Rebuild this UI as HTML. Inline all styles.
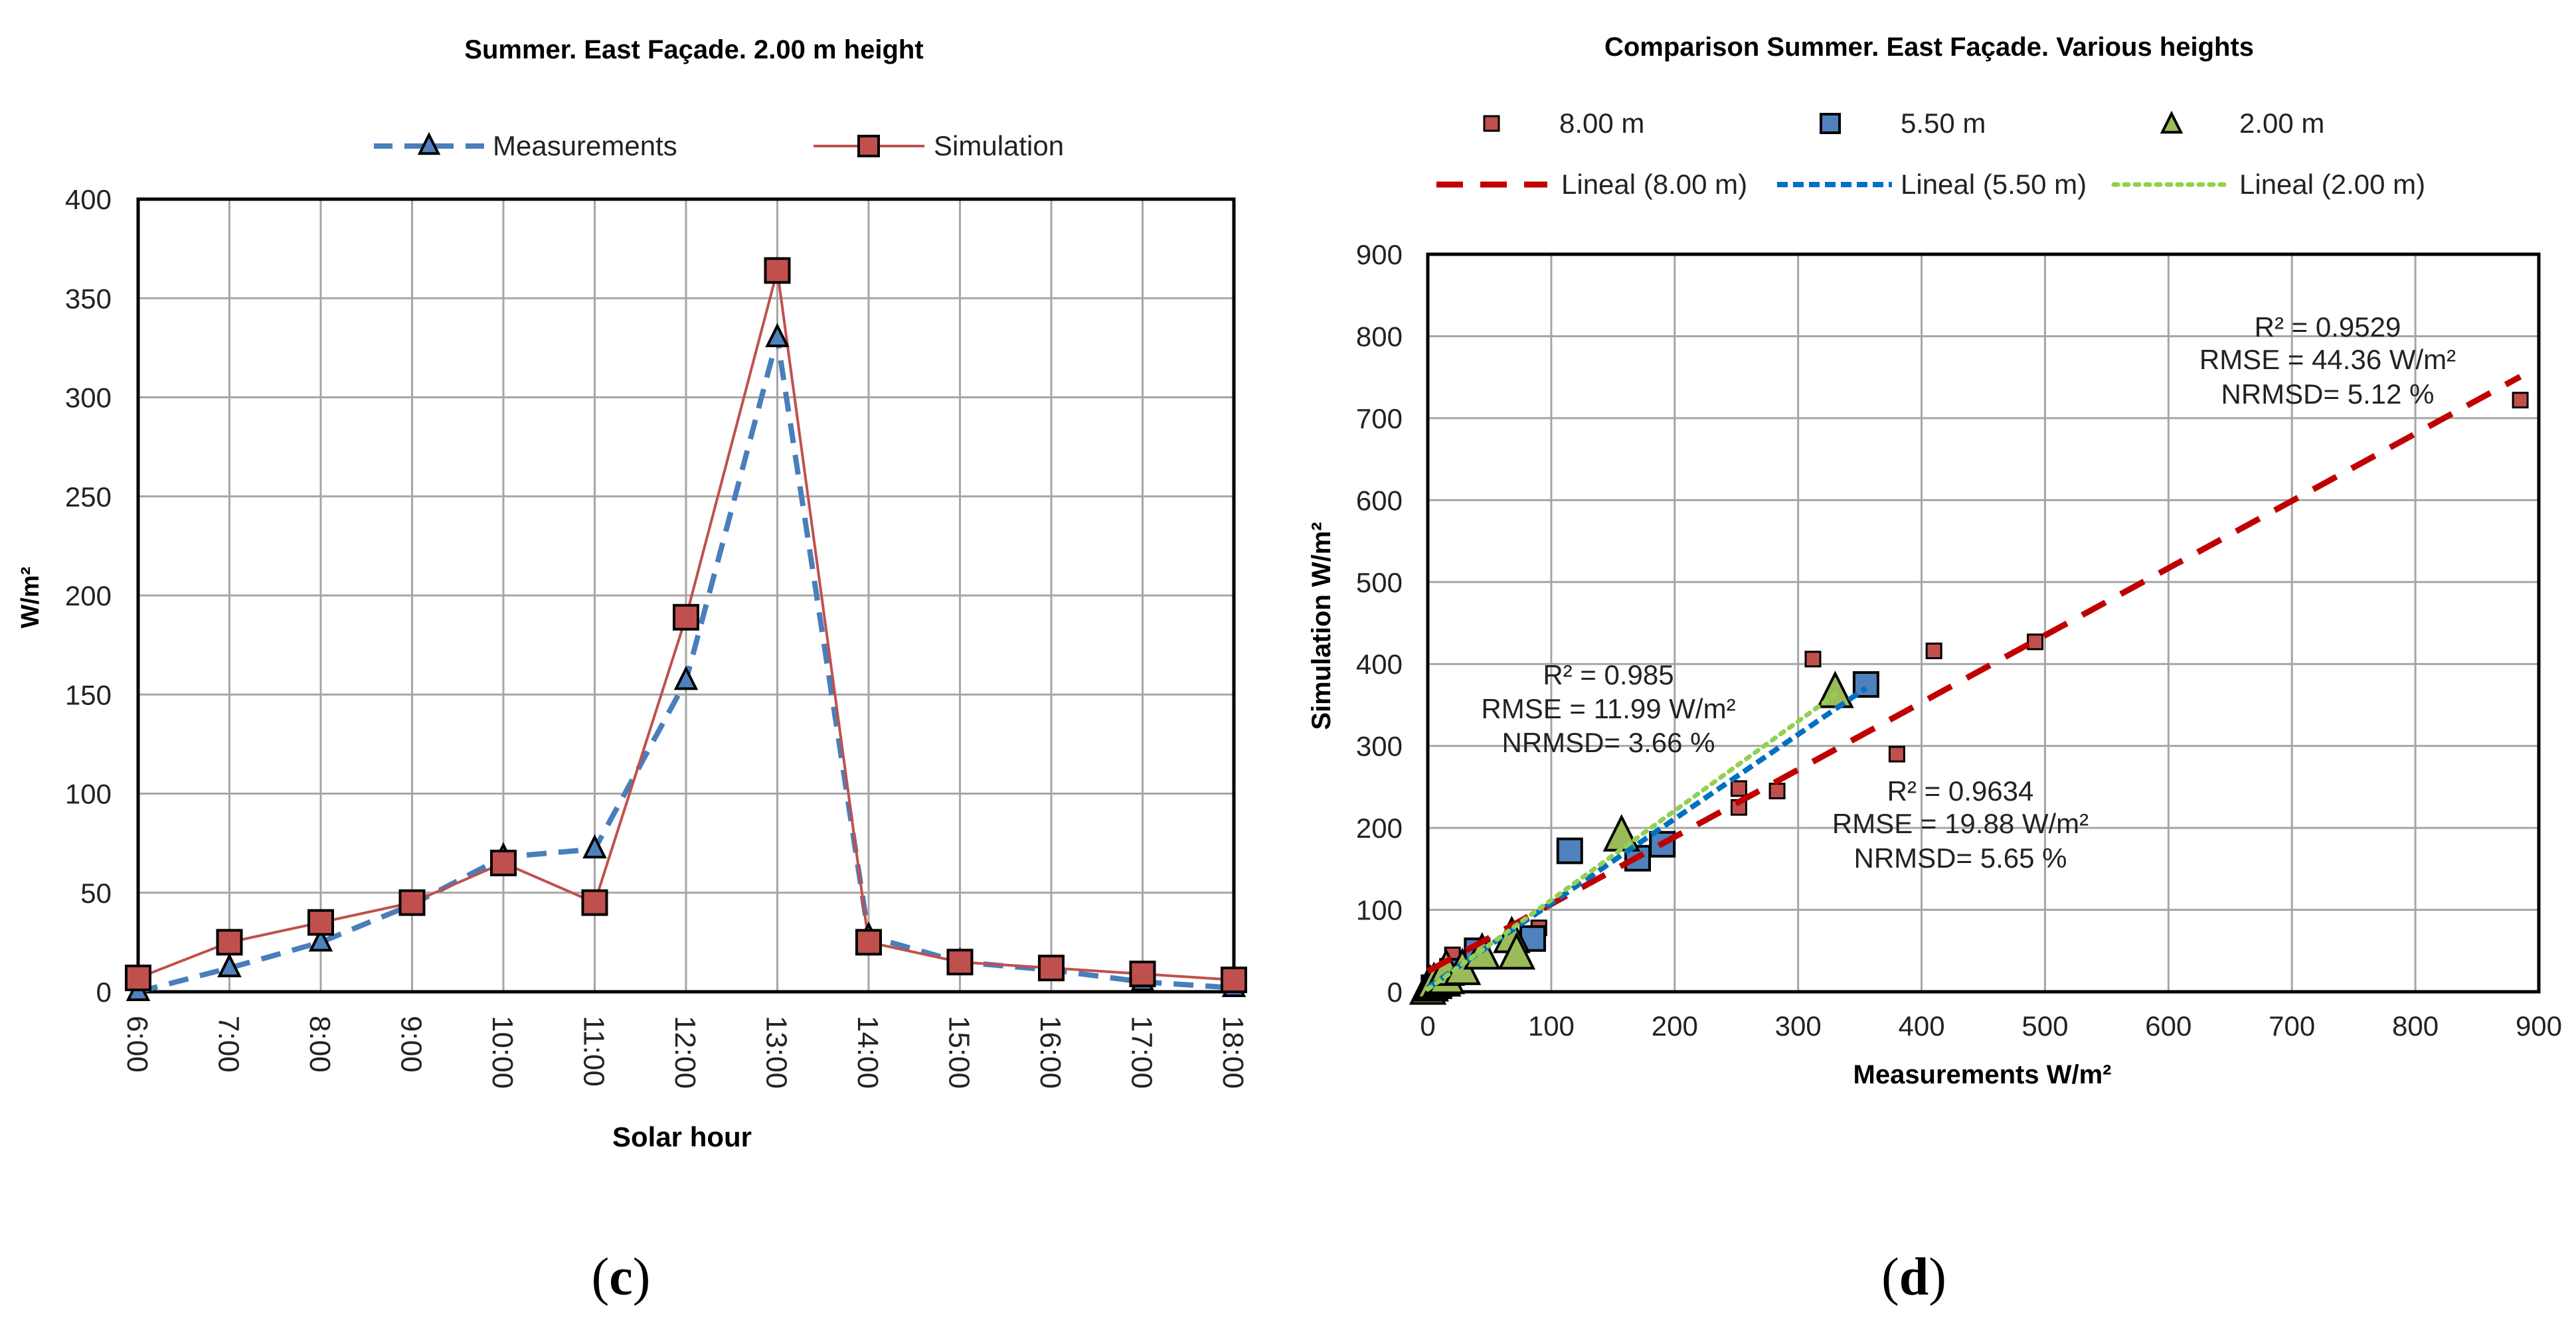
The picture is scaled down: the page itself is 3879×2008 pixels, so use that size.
<!DOCTYPE html>
<html><head><meta charset="utf-8"><style>
html,body{margin:0;padding:0;background:#fff;}
svg{display:block;font-family:"Liberation Sans",Arial,sans-serif;}
</style></head><body>
<svg id="fig" width="3879" height="2008" viewBox="0 0 3879 2008">
<g id="left"></g>
<g id="right"></g>
<text x="935" y="1950" font-family="Liberation Serif,serif" font-size="80" text-anchor="middle">(<tspan font-weight="bold">c</tspan>)</text>
<text x="2882" y="1950" font-family="Liberation Serif,serif" font-size="80" text-anchor="middle">(<tspan font-weight="bold">d</tspan>)</text>
</svg>
<script>
const hours = ["6:00","7:00","8:00","9:00","10:00","11:00","12:00","13:00","14:00","15:00","16:00","17:00","18:00"];
const measurements = [0,12,25,44,68,72,157,330,28,15,11,5,2];
const simulation = [7,25,35,45,65,45,189,364,25,15,12,9,6];
const leftTicks = [0,50,100,150,200,250,300,350,400];

const s8x = [5,10,15,20,90,252,252,283,312,380,410,492,885];
const s8y = [5,10,20,45,78,248,225,245,406,290,416,427,722];
const s55x = [5,10,20,40,85,115,170,190,355];
const s55y = [5,10,25,50,65,172,163,180,375];
const s2x = [0,2,5,11,12,15,15,28,44,68,72,157,330];
const s2y = [2,6,9,12,12,15,25,26,45,65,45,189,364];
const trendSlope = [0.82,1.03,1.09];
const trendIntercept = [25,5,3];
const trendMaxX = [885,355,330];
const rightTicks = [0,100,200,300,400,500,600,700,800,900];

const NS="http://www.w3.org/2000/svg";
function mk(parent,tag,attrs,txt){const e=document.createElementNS(NS,tag);for(const k in attrs)e.setAttribute(k,attrs[k]);if(txt!==undefined)e.textContent=txt;parent.appendChild(e);return e;}

// LEFT CHART
const L=document.getElementById('left');
const lx0=208,lx1=1858,ly0=1494,ly1=300;
const lxs=i=>lx0+(lx1-lx0)*i/(hours.length-1);
const lys=v=>ly0-(ly0-ly1)*v/400;
let t=mk(L,'text',{x:1045,y:88,'font-size':40,'font-weight':'bold','text-anchor':'middle'},'Summer. East Façade. 2.00 m height');


leftTicks.forEach(v=>{
 let g=mk(L,'line',{x1:lx0,x2:lx1,y1:lys(v),y2:lys(v),stroke:'#a6a6a6','stroke-width':3});
 
 
 let tl=mk(L,'text',{x:168,y:lys(v)+15,'font-size':42,'text-anchor':'end',fill:'#222'},String(v));
 
 
});
hours.forEach((h,i)=>{
 let g=mk(L,'line',{x1:lxs(i),x2:lxs(i),y1:ly1,y2:ly0,stroke:'#a6a6a6','stroke-width':3});
 
 
 let tl=mk(L,'text',{x:0,y:0,'font-size':44,transform:`translate(${lxs(i)-16},1530) rotate(90)`,fill:'#222'},h);
 
 
});
let fr=mk(L,'rect',{x:lx0,y:ly1,width:lx1-lx0,height:ly0-ly1,fill:'none',stroke:'#000','stroke-width':5});


let mp=measurements.map((v,i)=>lxs(i)+','+lys(v)).join(' ');
let ml=mk(L,'polyline',{points:mp,fill:'none',stroke:'#4a7ebb','stroke-width':8,'stroke-dasharray':'30 18'});


let sp=simulation.map((v,i)=>lxs(i)+','+lys(v)).join(' ');
let sl=mk(L,'polyline',{points:sp,fill:'none',stroke:'#c0504d','stroke-width':4});


function tri(p,cx,cy,s,fill){return mk(p,'polygon',{points:`${cx},${cy-s*0.6} ${cx-s/2},${cy+s*0.4} ${cx+s/2},${cy+s*0.4}`,fill:fill,stroke:'#000','stroke-width':4});}
function sq(p,cx,cy,s,fill){return mk(p,'rect',{x:cx-s/2,y:cy-s/2,width:s,height:s,fill:fill,stroke:'#000','stroke-width':4});}
measurements.forEach((v,i)=>{let m=tri(L,lxs(i),lys(v),30,'#4f81bd');
 
 });
simulation.forEach((v,i)=>{let m=sq(L,lxs(i),lys(v),36,'#c0504d');
 
 });
// left legend
let lg=mk(L,'g',{});


mk(lg,'line',{x1:563,x2:730,y1:220,y2:220,stroke:'#4a7ebb','stroke-width':8,'stroke-dasharray':'28 18'});
tri(lg,646,220,28,'#4f81bd');
mk(lg,'text',{x:742,y:234,'font-size':42,fill:'#222'},'Measurements');
mk(lg,'line',{x1:1225,x2:1392,y1:220,y2:220,stroke:'#c0504d','stroke-width':4});
sq(lg,1308,220,30,'#c0504d');
mk(lg,'text',{x:1406,y:234,'font-size':42,fill:'#222'},'Simulation');
t=mk(L,'text',{x:0,y:0,'font-size':38,'font-weight':'bold',transform:'translate(58,900) rotate(-90)','text-anchor':'middle'},'W/m²');


t=mk(L,'text',{x:1027,y:1727,'font-size':42,'font-weight':'bold','text-anchor':'middle'},'Solar hour');



// RIGHT CHART
const R=document.getElementById('right');
const rx0=2150,rx1=3823,ry0=1494,ry1=383;
const rxs=v=>rx0+(rx1-rx0)*v/900;
const rys=v=>ry0-(ry0-ry1)*v/900;
t=mk(R,'text',{x:2905,y:84,'font-size':40,'font-weight':'bold','text-anchor':'middle'},'Comparison Summer. East Façade. Various heights');


rightTicks.forEach(v=>{
 let g=mk(R,'line',{x1:rx0,x2:rx1,y1:rys(v),y2:rys(v),stroke:'#a6a6a6','stroke-width':3});
 
 
 g=mk(R,'line',{x1:rxs(v),x2:rxs(v),y1:ry1,y2:ry0,stroke:'#a6a6a6','stroke-width':3});
 
 
 let tl=mk(R,'text',{x:2112,y:rys(v)+15,'font-size':42,'text-anchor':'end',fill:'#222'},String(v));
 
 
 tl=mk(R,'text',{x:rxs(v),y:1560,'font-size':42,'text-anchor':'middle',fill:'#222'},String(v));
 
 
});
fr=mk(R,'rect',{x:rx0,y:ry1,width:rx1-rx0,height:ry0-ry1,fill:'none',stroke:'#000','stroke-width':5});


s8x.forEach((x,i)=>{let m=sq(R,rxs(x),rys(s8y[i]),22,'#c0504d');m.setAttribute('stroke-width',3);
 
 });
s55x.forEach((x,i)=>{let m=sq(R,rxs(x),rys(s55y[i]),36,'#4f81bd');
 
 });
s2x.forEach((x,i)=>{let m=tri(R,rxs(x),rys(s2y[i]),50,'#9bbb59');
 
 });
const tStyles=[{stroke:'#c00000','stroke-width':9,'stroke-dasharray':'40 26'},{stroke:'#0070c0','stroke-width':8,'stroke-dasharray':'16 8'},{stroke:'#92d050','stroke-width':7,'stroke-dasharray':'6 10','stroke-linecap':'round'}];
const tNames=['trendline-8m','trendline-5-5m','trendline-2m'];
trendSlope.forEach((m,i)=>{
 const a=Object.assign({x1:rxs(0),y1:rys(trendIntercept[i]),x2:rxs(trendMaxX[i]),y2:rys(trendIntercept[i]+m*trendMaxX[i]),fill:'none'},tStyles[i]);
 let l=mk(R,'line',a);
 
 
});
function ann(lines,cx,ys,name){let g=mk(R,'g',{});
 
 
 lines.forEach((s,i)=>mk(g,'text',{x:cx,y:ys[i],'font-size':42,'text-anchor':'middle',fill:'#222'},s));}
ann(['R² = 0.9529','RMSE = 44.36 W/m²','NRMSD= 5.12 %'],3505,[507,556,608],'annotation-8m');
ann(['R² = 0.985','RMSE = 11.99 W/m²','NRMSD= 3.66 %'],2422,[1031,1082,1133],'annotation-2m');
ann(['R² = 0.9634','RMSE = 19.88 W/m²','NRMSD= 5.65 %'],2952,[1206,1255,1307],'annotation-5-5m');
let rg=mk(R,'g',{});


let q=sq(rg,2246,186,22,'#c0504d');q.setAttribute('stroke-width',3);
mk(rg,'text',{x:2348,y:200,'font-size':42,fill:'#222'},'8.00 m');
sq(rg,2756,186,28,'#4f81bd');
mk(rg,'text',{x:2862,y:200,'font-size':42,fill:'#222'},'5.50 m');
tri(rg,3270,188,28,'#9bbb59');
mk(rg,'text',{x:3372,y:200,'font-size':42,fill:'#222'},'2.00 m');
mk(rg,'line',Object.assign({x1:2163,x2:2330,y1:278,y2:278},tStyles[0]));
mk(rg,'text',{x:2351,y:292,'font-size':42,fill:'#222'},'Lineal (8.00 m)');
mk(rg,'line',Object.assign({x1:2676,x2:2849,y1:278,y2:278},tStyles[1]));
mk(rg,'text',{x:2862,y:292,'font-size':42,fill:'#222'},'Lineal (5.50 m)');
mk(rg,'line',Object.assign({x1:3183,x2:3350,y1:278,y2:278},tStyles[2]));
mk(rg,'text',{x:3372,y:292,'font-size':42,fill:'#222'},'Lineal (2.00 m)');
t=mk(R,'text',{x:0,y:0,'font-size':40,'font-weight':'bold',transform:'translate(2003,943) rotate(-90)','text-anchor':'middle'},'Simulation W/m²');


t=mk(R,'text',{x:2985,y:1632,'font-size':40,'font-weight':'bold','text-anchor':'middle'},'Measurements W/m²');


</script>
</body></html>
